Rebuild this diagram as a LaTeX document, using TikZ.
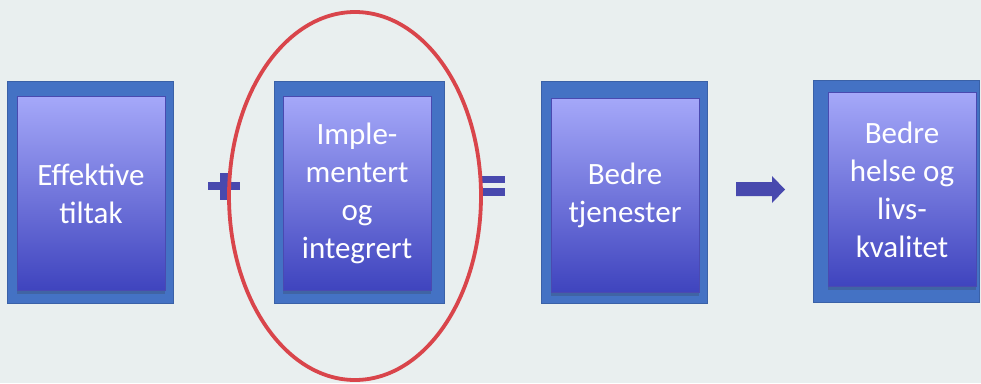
\documentclass[tikz,border=0pt]{standalone}
\usepackage{fontspec}
\setmainfont{Carlito}
\usetikzlibrary{shadows}
\definecolor{bg}{HTML}{E9EFEF}
\definecolor{frameblue}{HTML}{4472C4}
\definecolor{boxtop}{HTML}{A5A8F9}
\definecolor{boxmid}{HTML}{8C8FEC}
\definecolor{boxbot}{HTML}{3F44BE}
\definecolor{boxedge}{HTML}{4A4AB0}
\definecolor{opblue}{HTML}{4849AE}
\definecolor{ringred}{HTML}{D9454B}
\tikzset{
  frame/.style={fill=frameblue, draw=frameblue!85!black, line width=0.6pt,
    minimum width=166pt, minimum height=222pt, inner sep=0pt},
  card/.style={top color=boxtop, middle color=boxmid, bottom color=boxbot,
    draw=boxedge, line width=0.8pt,
    minimum width=148pt, minimum height=194pt, inner sep=0pt, text=white, align=center,
    font=\fontsize{31}{38}\selectfont,
    drop shadow={shadow xshift=0pt, shadow yshift=-3.5pt, opacity=0.22, fill=black!80}},
  op/.style={fill=opblue, draw=none},
  ring/.style={draw=ringred, line width=3.8pt},
}
\begin{document}
\begin{tikzpicture}[x=1pt,y=-1pt]
  % canvas
  \fill[bg] (0,0) rectangle (981,383);
  \useasboundingbox (0,0) rectangle (981,383);

  % outer frames
  \node[frame] (f1) at (90.5,192) {};
  \node[frame, minimum width=170pt] (f2) at (359,192) {};
  \node[frame] (f3) at (624.5,192.5) {};
  \node[frame] (f4) at (896.5,191.5) {};

  % gradient cards with labels
  \node[card] (c1) at (91,193.5) {Effektive\\tiltak};
  \node[card] (c2) at (357,193) {Imple-\\mentert\\og\\integrert};
  \node[card] (c3) at (625,195) {Bedre\\tjenester};
  \node[card] (c4) at (902,189.5) {Bedre\\helse og\\livs-\\kvalitet};

  % plus sign
  \coordinate (plus) at (224,186);
  \fill[op] ([xshift=-16pt,yshift=4pt]plus) rectangle ([xshift=16pt,yshift=-4pt]plus);
  \fill[op] ([xshift=-4pt,yshift=13.5pt]plus) rectangle ([xshift=4pt,yshift=-13.5pt]plus);

  % equals sign
  \coordinate (eq) at (492,186);
  \fill[op] ([xshift=-13pt,yshift=10pt]eq) rectangle ([xshift=13pt,yshift=3pt]eq);
  \fill[op] ([xshift=-13pt,yshift=-2pt]eq) rectangle ([xshift=13pt,yshift=-10pt]eq);

  % right arrow
  \fill[op] (736,182) -- (772,182) -- (772,176) -- (785,189.5) -- (772,203)
    -- (772,196) -- (736,196) -- cycle;

  % highlight ring round the second card
  \draw[ring] (355,196) ellipse [x radius=126, y radius=184];
\end{tikzpicture}
\end{document}
